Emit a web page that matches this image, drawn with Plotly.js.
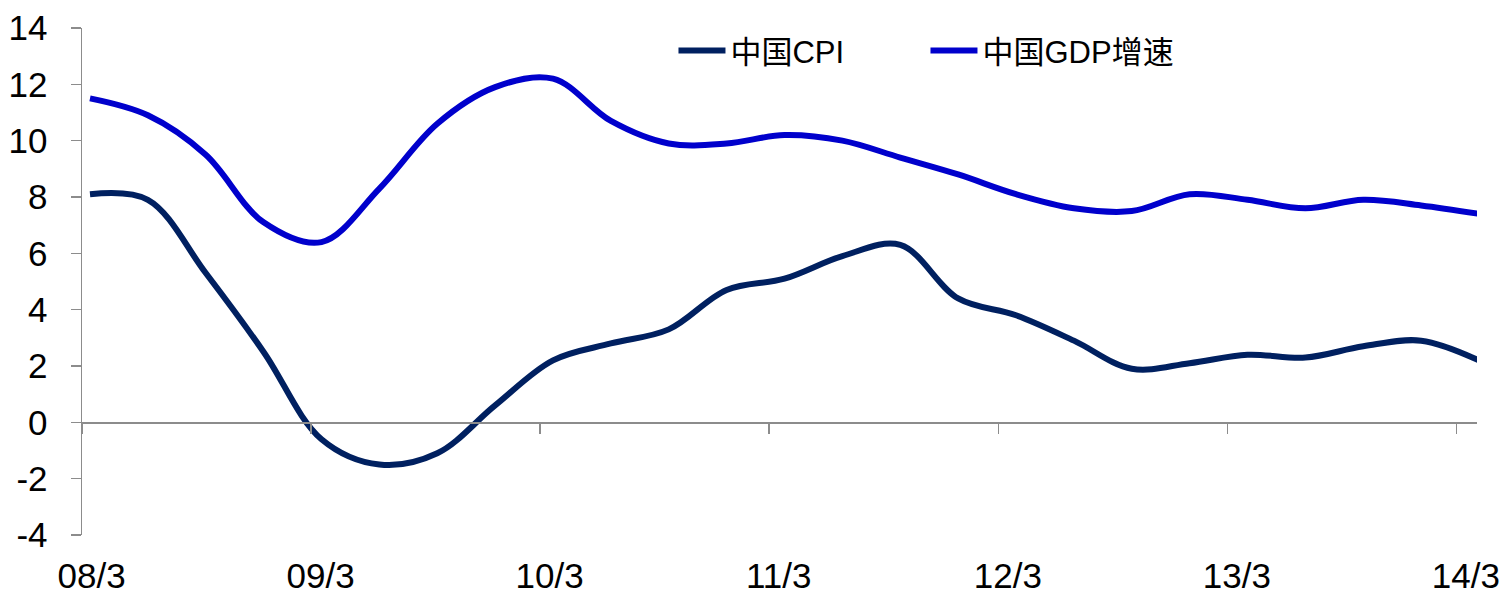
<!DOCTYPE html>
<html>
<head>
<meta charset="utf-8">
<script src="https://cdn.plot.ly/plotly-3.0.1.min.js"></script>
<style>
  html, body { margin: 0; padding: 0; background: #fff; }
  #chart { width: 1507px; height: 596px; }
</style>
</head>
<body>
<div id="chart"></div>
<script>
// Quarterly observations, 2008Q1 - 2014Q1 (year-on-year, %)
const quarters = ['08/3','08/6','08/9','08/12','09/3','09/6','09/9','09/12',
                  '10/3','10/6','10/9','10/12','11/3','11/6','11/9','11/12',
                  '12/3','12/6','12/9','12/12','13/3','13/6','13/9','13/12','14/3'];
const cpi = [8.1, 7.9, 5.3, 2.5, -0.6, -1.5, -1.1, 0.6,
             2.2, 2.8, 3.3, 4.7, 5.1, 5.9, 6.3, 4.4,
             3.8, 2.9, 1.9, 2.1, 2.4, 2.3, 2.7, 2.9, 2.2];
const gdp = [11.5, 10.9, 9.5, 7.1, 6.4, 8.3, 10.6, 11.9,
             12.2, 10.7, 9.9, 9.9, 10.2, 10.0, 9.4, 8.8,
             8.1, 7.6, 7.5, 8.1, 7.9, 7.6, 7.9, 7.7, 7.4];

// Year ticks on a monthly time scale (months since March 2008);
// labels sit in the middle of their month
const yearTicks = [0, 12, 24, 36, 48, 60, 72];
const yearLabels = ['08/3','09/3','10/3','11/3','12/3','13/3','14/3'];
const labelPos = yearTicks.map(m => m + 0.5);

// Value axis ticks
const yTicks = [-4, -2, 0, 2, 4, 6, 8, 10, 12, 14];
const yLabels = ['-4', '-2', '0', '2', '4', '6', '8', '10', '12', '14'];

const seriesNames = ['中国CPI', '中国GDP增速'];
const seriesColors = ['#002060', '#0000CC'];

const FONT = 'Liberation Sans, Arial, "Noto Sans CJK SC", sans-serif';
const AXIS_GREY = '#8c8c8c';
const yMin = -4, yMax = 14;

const traces = [cpi, gdp].map((vals, k) => ({
  type: 'scatter',
  mode: 'lines',
  name: seriesNames[k],
  x: quarters,
  y: vals,
  xaxis: 'x3',
  line: { color: seriesColors[k], width: 6, shape: 'spline', smoothing: 1 },
  hoverinfo: 'x+y+name'
}));

// empty carriers so the label axis and the zero-crossing axis get drawn
['x', 'x2'].forEach(ax => traces.push({
  type: 'scatter', mode: 'lines', x: [], y: [], xaxis: ax,
  showlegend: false, hoverinfo: 'skip'
}));

const layout = {
  width: 1507,
  height: 596,
  margin: { l: 82, r: 30, t: 28, b: 61 },
  paper_bgcolor: '#fff',
  plot_bgcolor: '#fff',
  font: { family: FONT, size: 35, color: '#000' },
  showlegend: true,
  legend: {
    orientation: 'h',
    x: 0.424, xanchor: 'left',
    y: 0.955, yanchor: 'middle',
    font: { family: FONT, size: 31, color: '#000' },
    bgcolor: 'rgba(0,0,0,0)',
    itemwidth: 47,
    entrywidth: 190,
    entrywidthmode: 'pixels'
  },
  // bottom axis: year labels only
  xaxis: {
    range: [0, 73.08],
    tickmode: 'array',
    tickvals: labelPos,
    ticktext: yearLabels,
    ticks: '',
    showline: false,
    showgrid: false,
    zeroline: false,
    ticklabelstandoff: 17,
    tickfont: { family: FONT, size: 35, color: '#000' },
    fixedrange: true
  },
  // category axis line crossing at zero with tick marks
  xaxis2: {
    overlaying: 'x',
    anchor: 'free',
    position: (0 - yMin) / (yMax - yMin),
    range: [0, 73.08],
    tickmode: 'array',
    tickvals: yearTicks,
    showticklabels: false,
    ticks: 'outside',
    ticklen: 10,
    tickwidth: 1.5,
    tickcolor: AXIS_GREY,
    showline: true,
    linecolor: AXIS_GREY,
    linewidth: 1.5,
    showgrid: false,
    zeroline: false,
    fixedrange: true
  },
  // quarterly scale the series are drawn on
  xaxis3: {
    overlaying: 'x',
    type: 'category',
    range: [-0.138, 23.965],
    visible: false,
    fixedrange: true
  },
  yaxis: {
    range: [yMin, yMax],
    tickmode: 'array',
    tickvals: yTicks,
    ticktext: yLabels,
    ticks: 'outside',
    ticklen: 10,
    tickwidth: 1.5,
    tickcolor: AXIS_GREY,
    showline: true,
    linecolor: AXIS_GREY,
    linewidth: 1.5,
    showgrid: false,
    zeroline: false,
    ticklabelstandoff: 16,
    tickfont: { family: FONT, size: 35, color: '#000' },
    fixedrange: true
  }
};

Plotly.newPlot('chart', traces, layout, { displayModeBar: false, staticPlot: true });
</script>
</body>
</html>
